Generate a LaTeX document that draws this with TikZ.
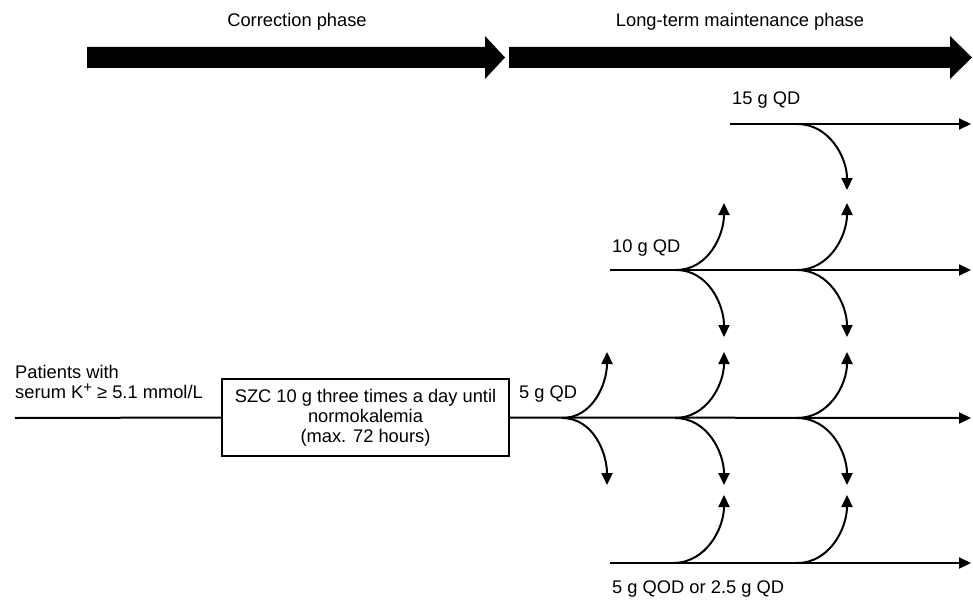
\documentclass[tikz,border=0pt]{standalone}
\usepackage{fontspec}
\setmainfont{Liberation Sans}
\usetikzlibrary{arrows.meta}
\begin{document}
\begin{tikzpicture}[x=1pt,y=-1pt,
  every node/.style={font=\fontsize{18.3}{20}\selectfont, inner sep=0pt},
  lbl/.style={anchor=base west},
  ln/.style={line width=2pt},
  arr/.style={line width=2pt,-{Triangle[length=12pt,width=11pt]}},
  bigarrow/.style={fill=black,draw=none}]
\useasboundingbox (0,0) rectangle (973,599);
% phase arrows
\fill[bigarrow] (87,47) -- (485,47) -- (485,36) -- (505,57.5) -- (485,79) -- (485,68) -- (87,68) -- cycle;
\fill[bigarrow] (509,47) -- (950,47) -- (950,36) -- (972,57.5) -- (950,79) -- (950,68) -- (509,68) -- cycle;
\node[anchor=base] (tc) at (297,27) {Correction phase};
\node[anchor=base] (tl) at (740,27) {Long-term maintenance phase};
% labels
\node[lbl] (pat) at (15,378) {Patients with};
\node[lbl] (ser) at (15,398) {serum K\raisebox{0.28em}{\fontsize{15}{15}\selectfont +} ≥ 5.1 mmol/L};
\node[lbl] (l5) at (519,398) {5 g QD};
\node[lbl] (l10) at (612,252) {10 g QD};
\node[lbl] (l15) at (732,105) {15 g QD};
\node[lbl] (lb) at (612,593) {5 g QOD or 2.5 g QD};
% box
\node[draw, line width=1.6pt, minimum width=287pt, minimum height=77pt, align=center, inner sep=2pt] (box) at (365.5,417.5)
  {SZC 10 g three times a day until\\normokalemia\\(max. 72 hours)};
% line endpoints
\coordinate (s0) at (15,418);
\coordinate (e5) at (971,418);
\coordinate (s10) at (610,270);
\coordinate (e10) at (971,270);
\coordinate (s15) at (730,124);
\coordinate (e15) at (971,124);
\coordinate (sb) at (610,563);
\coordinate (eb) at (971,563);
% branch points
\coordinate (b5a) at (562,418);
\coordinate (b5b) at (675,418);
\coordinate (b5c) at (797,418);
\coordinate (b10a) at (676,270);
\coordinate (b10b) at (797,270);
\coordinate (b15) at (797,124);
\coordinate (bba) at (673,563);
\coordinate (bbb) at (797,563);
% tips
\coordinate (t5au) at (607,352);
\coordinate (t5ad) at (607,485);
\coordinate (t5bu) at (724,352);
\coordinate (t5bd) at (724,485);
\coordinate (t5cu) at (847,352);
\coordinate (t5cd) at (847,485);
\coordinate (t10au) at (724,203);
\coordinate (t10ad) at (724,337);
\coordinate (t10bu) at (847,203);
\coordinate (t10bd) at (847,337);
\coordinate (t15d) at (847,190);
\coordinate (tbau) at (724,495);
\coordinate (tbbu) at (847,495);
% main lines
\draw[ln] (s0) -- (box.west);
\draw[arr] (box.east) -- (e5);
\draw[arr] (s10) -- (e10);
\draw[arr] (s15) -- (e15);
\draw[arr] (sb) -- (eb);
% curved arrows
\foreach \b/\t in {b5a/t5au,b5b/t5bu,b5c/t5cu,b10a/t10au,b10b/t10bu,bba/tbau,bbb/tbbu}
  \draw[arr] (\b) to[out=0,in=-90] (\t);
\foreach \b/\t in {b5a/t5ad,b5b/t5bd,b5c/t5cd,b10a/t10ad,b10b/t10bd,b15/t15d}
  \draw[arr] (\b) to[out=0,in=90] (\t);
\end{tikzpicture}
\end{document}
